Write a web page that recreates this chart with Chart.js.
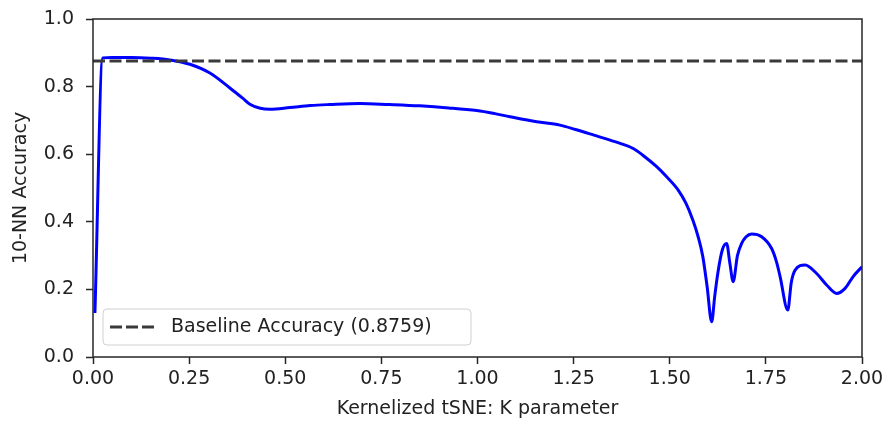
<!DOCTYPE html>
<html>
<head>
<meta charset="utf-8">
<script src="https://cdn.jsdelivr.net/npm/chart.js@4/dist/chart.umd.min.js"></script>
<style>
  body { margin: 0; background: #fff; }
</style>
</head>
<body>
<canvas id="chart" width="887" height="421"></canvas>
<script>
// K parameter vs 10-NN accuracy
const kValues = [0.005, 0.025, 0.05, 0.10, 0.15, 0.200, 0.252, 0.304, 0.356, 0.39, 0.408, 0.435, 0.460, 0.512, 0.565, 0.616, 0.694, 0.770, 0.850, 0.925, 0.998, 1.045, 1.084, 1.154, 1.214, 1.255, 1.301, 1.371, 1.405, 1.430, 1.466, 1.492, 1.522, 1.542, 1.560, 1.574, 1.586, 1.597, 1.609, 1.617, 1.625, 1.637, 1.648, 1.656, 1.665, 1.676, 1.687, 1.698, 1.713, 1.739, 1.765, 1.778, 1.787, 1.807, 1.816, 1.826, 1.852, 1.882, 1.908, 1.934, 1.956, 1.977, 2.000];
const accuracy = [0.13, 0.885, 0.886, 0.886, 0.884, 0.879, 0.866, 0.840, 0.796, 0.765, 0.748, 0.736, 0.733, 0.738, 0.744, 0.747, 0.750, 0.747, 0.743, 0.737, 0.729, 0.720, 0.711, 0.696, 0.686, 0.673, 0.657, 0.632, 0.617, 0.597, 0.563, 0.533, 0.494, 0.455, 0.405, 0.355, 0.297, 0.210, 0.104, 0.180, 0.248, 0.318, 0.336, 0.280, 0.223, 0.300, 0.336, 0.355, 0.364, 0.356, 0.321, 0.280, 0.238, 0.139, 0.220, 0.257, 0.272, 0.247, 0.213, 0.188, 0.203, 0.238, 0.267];
const baseline = 0.8759;
const baselineLabel = "Baseline Accuracy (0.8759)";
const xTicks = [0, 0.25, 0.5, 0.75, 1.0, 1.25, 1.5, 1.75, 2.0];
const yTicks = [0, 0.2, 0.4, 0.6, 0.8, 1.0];

const FONT = "DejaVu Sans";
const AXIS = '#262626';
const DASH = '#3a3a3a';

let points = kValues.map((k, i) => ({ x: k, y: accuracy[i] }));

// box around the plot + legend in lower left
const frameAndLegend = {
    id: 'frameAndLegend',
    afterDraw(chart) {
        let ctx = chart.ctx;
        let a = chart.chartArea;
        ctx.save();
        ctx.strokeStyle = AXIS;
        ctx.lineWidth = 1.5;
        ctx.strokeRect(a.left, a.top, a.right - a.left, a.bottom - a.top);

        // legend box
        let bx = a.left + 10, by = a.bottom - 48, bw = 368, bh = 36;
        ctx.beginPath();
        ctx.roundRect(bx, by, bw, bh, 4);
        ctx.fillStyle = 'rgba(255,255,255,0.8)';
        ctx.fill();
        ctx.strokeStyle = '#d0d0d0';
        ctx.lineWidth = 1;
        ctx.stroke();

        let cy = by + bh / 2;
        ctx.beginPath();
        ctx.setLineDash([12, 4]);
        ctx.strokeStyle = DASH;
        ctx.lineWidth = 3;
        ctx.moveTo(bx + 7, cy);
        ctx.lineTo(bx + 51, cy);
        ctx.stroke();
        ctx.setLineDash([]);

        ctx.fillStyle = '#222';
        ctx.font = '19px "' + FONT + '"';
        ctx.textBaseline = 'middle';
        ctx.textAlign = 'left';
        ctx.fillText(baselineLabel, bx + 68, cy);
        ctx.restore();
    }
};

let ctx = document.getElementById('chart').getContext('2d');
let chart = new Chart(ctx, {
    type: 'line',
    data: {
        datasets: [
            {
                label: baselineLabel,
                data: [{ x: 0, y: baseline }, { x: 2, y: baseline }],
                borderColor: DASH,
                borderDash: [12, 4.5],
                borderWidth: 3,
                pointRadius: 0,
            },
            {
                label: 'accuracy',
                data: points,
                borderColor: '#0000ff',
                borderWidth: 3,
                pointRadius: 0,
                cubicInterpolationMode: 'monotone',
            }
        ]
    },
    options: {
        responsive: false,
        animation: false,
        layout: { padding: { left: 0, top: 19, right: 25, bottom: 0 } },
        plugins: {
            legend: { display: false },
            tooltip: { enabled: false }
        },
        scales: {
            x: {
                type: 'linear',
                min: 0,
                max: 2,
                afterBuildTicks: (s) => { s.ticks = xTicks.map(v => ({ value: v })); },
                afterFit: (s) => { s.height = 64; s.paddingLeft = 0; s.paddingRight = 0; },
                grid: { drawOnChartArea: false, tickLength: 7, color: AXIS, tickWidth: 1.5 },
                border: { display: false },
                ticks: {
                    color: '#222',
                    font: { family: FONT, size: 19 },
                    padding: 4,
                    maxRotation: 0,
                    callback: (v) => v.toFixed(2)
                },
                title: {
                    display: true,
                    text: 'Kernelized tSNE: K parameter',
                    color: '#222',
                    font: { family: FONT, size: 19 },
                    padding: { top: 0, bottom: 1 }
                }
            },
            y: {
                min: 0,
                max: 1,
                afterBuildTicks: (s) => { s.ticks = yTicks.map(v => ({ value: v })); },
                afterFit: (s) => { s.width = 93; s.paddingTop = 0; s.paddingBottom = 0; },
                grid: { drawOnChartArea: false, tickLength: 7, color: AXIS, tickWidth: 1.5 },
                border: { display: false },
                ticks: {
                    color: '#222',
                    font: { family: FONT, size: 19 },
                    padding: 12,
                    callback: (v) => v.toFixed(1)
                },
                title: {
                    display: true,
                    text: '10-NN Accuracy',
                    color: '#222',
                    font: { family: FONT, size: 19 },
                    padding: { top: 10, bottom: 0 }
                }
            }
        }
    },
    plugins: [frameAndLegend]
});
</script>
</body>
</html>
